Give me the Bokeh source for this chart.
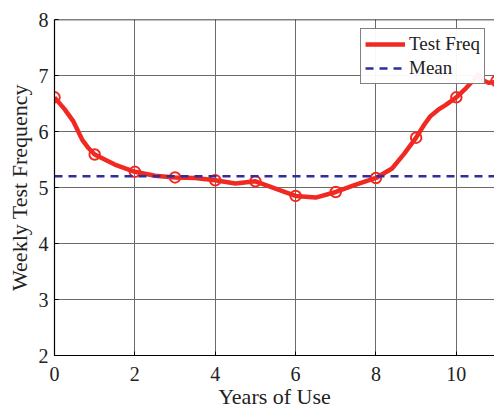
from bokeh.plotting import figure
from bokeh.models import Range1d, Legend, LegendItem, FixedTicker, Span
from bokeh.embed import file_html
from bokeh.resources import INLINE

# Data
years_line = [0, 0.25, 0.47, 0.7, 0.85, 1, 1.5, 2, 2.5, 3, 3.5, 4, 4.5, 5, 5.5, 6, 6.5,
              7, 7.5, 8, 8.4, 8.7, 9, 9.2, 9.35, 9.55, 9.73, 10, 10.25, 10.47, 10.55, 10.65, 10.8, 10.95, 11]
freq_line = [6.61, 6.40, 6.18, 5.84, 5.70, 5.59, 5.41, 5.28, 5.21, 5.18, 5.17, 5.13, 5.07, 5.11, 4.98, 4.85, 4.82,
             4.92, 5.05, 5.17, 5.34, 5.60, 5.89, 6.12, 6.27, 6.39, 6.47, 6.61, 6.78, 6.95, 7.02, 6.92, 6.87, 6.88, 6.90]
years_marker = [0, 1, 2, 3, 4, 5, 6, 7, 8, 9, 10, 11]
freq_marker = [6.61, 5.59, 5.28, 5.18, 5.13, 5.11, 4.85, 4.92, 5.17, 5.89, 6.61, 6.90]
mean_x = [0, 11]
mean_value = 5.2
x_ticks = [0, 2, 4, 6, 8, 10]
y_ticks = [2, 3, 4, 5, 6, 7, 8]

FONT = "Liberation Serif"

p = figure(width=494, height=411, output_backend="svg", toolbar_location=None,
           x_range=Range1d(0, 10.95), y_range=Range1d(2, 8),
           min_border_left=54, min_border_right=0, min_border_top=19, min_border_bottom=56,
           background_fill_color="white", border_fill_color="white")
p.outline_line_color = None

# grid
for g in (p.xgrid, p.ygrid):
    g.grid_line_color = "#6a6a6a"
    g.grid_line_width = 1
p.xaxis.ticker = FixedTicker(ticks=x_ticks)
p.yaxis.ticker = FixedTicker(ticks=y_ticks)
p.xgrid.ticker = FixedTicker(ticks=x_ticks)
p.ygrid.ticker = FixedTicker(ticks=y_ticks)

for ax in (p.xaxis, p.yaxis):
    ax.axis_line_color = "black"
    ax.axis_line_width = 1.2
    ax.major_tick_in = 4
    ax.major_tick_out = 0
    ax.minor_tick_line_color = None
    ax.major_label_text_font = FONT
    ax.major_label_text_font_size = "20px"
    ax.major_label_text_color = "#222222"
    ax.axis_label_text_font = FONT
    ax.axis_label_text_font_size = "22px"
    ax.axis_label_text_font_style = "normal"
    ax.axis_label_text_color = "#222222"

p.xaxis.axis_label = "Years of Use"
p.yaxis.axis_label = "Weekly Test Frequency"
p.xaxis.major_label_standoff = 11
p.xaxis.axis_label_standoff = 0
p.yaxis.major_label_standoff = 6
p.yaxis.axis_label_standoff = 4

# top frame line
p.add_layout(Span(location=8, dimension="width", line_color="black", line_width=1.5))

RED = "#f02a22"
BLUE = "#2e2e9c"

r_line = p.line(years_line, freq_line, line_color=RED, line_width=4.5, line_join="round")
p.scatter(years_marker, freq_marker, marker="circle", size=10.5, line_color=RED,
          line_width=2, fill_alpha=0)
r_mean = p.line(mean_x, [mean_value, mean_value], line_color=BLUE, line_width=2.5,
                line_dash="8 6")

legend = Legend(items=[LegendItem(label="Test Freq", renderers=[r_line]),
                       LegendItem(label="Mean", renderers=[r_mean])],
                location="top_right", margin=9)
legend.label_text_font = FONT
legend.label_text_font_size = "19px"
legend.label_text_color = "#222222"
legend.border_line_color = "black"
legend.border_line_width = 1.5
legend.glyph_width = 40
legend.glyph_height = 20
legend.label_standoff = 4
legend.spacing = 2
legend.padding = 4
legend.label_height = 20
p.add_layout(legend)

open("out.html", "w").write(file_html(p, INLINE))
